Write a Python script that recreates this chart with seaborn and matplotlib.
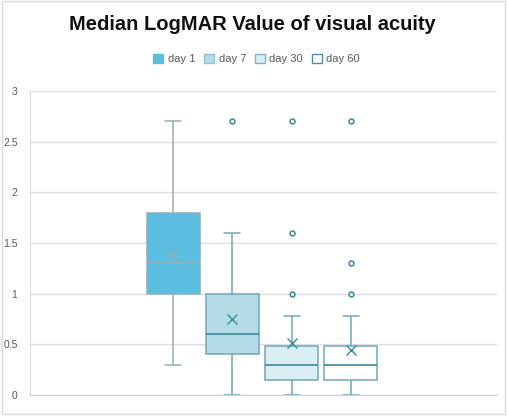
import numpy as np
import pandas as pd
import matplotlib
matplotlib.use("Agg")
import matplotlib.pyplot as plt
from matplotlib.patches import Patch, Rectangle
import seaborn as sns

# LogMAR values per visit
days = ["day 1", "day 7", "day 30", "day 60"]
day1 = [0.3, 0.78, 0.78, 1.0, 1.0, 1.0, 1.0, 1.3, 1.3, 1.3, 1.3, 1.3,
        1.6, 1.6, 1.8, 1.8, 1.8, 1.8, 1.8, 1.8, 2.7]
day7 = [0, 0.18, 0.3, 0.3, 0.4, 0.4, 0.48, 0.48, 0.6, 0.6, 0.6, 0.6,
        0.6, 1.0, 1.0, 1.0, 1.0, 1.0, 1.0, 1.6, 2.7]
day30 = [0, 0, 0, 0.1, 0.15, 0.15, 0.18, 0.18, 0.3, 0.3, 0.3, 0.3,
         0.48, 0.48, 0.48, 0.48, 0.78, 0.78, 1.0, 1.6, 2.7]
day60 = [0, 0, 0, 0, 0, 0.15, 0.15, 0.15, 0.3, 0.3, 0.3, 0.3,
         0.3, 0.3, 0.3, 0.48, 0.48, 0.78, 1.0, 1.3, 2.7]

fills = ["#5BBDDF", "#B4DCE7", "#DAEEF4", "#FFFFFF"]
edges = ["#93AFB8", "#6FA7B6", "#6FA7B6", "#6FA7B6"]
medians = ["#93AFB8", "#3C8A9B", "#3C8A9B", "#3C8A9B"]

df = pd.DataFrame({
    "day": np.repeat(days, [len(day1), len(day7), len(day30), len(day60)]),
    "value": day1 + day7 + day30 + day60,
})

sns.set_style("white")
plt.rcParams["font.family"] = ["Liberation Sans", "DejaVu Sans"]

fig = plt.figure(figsize=(5.08, 4.19), dpi=100)
ax = fig.add_axes([30 / 508, 1 - 395 / 419, 467 / 508, 304 / 419])

for d, fc, ec, mc in zip(days, fills, edges, medians):
    sub = df[df["day"] == d]
    sns.boxplot(data=sub, x="day", y="value", order=days, color=fc,
                width=0.9, linewidth=1.1, linecolor=ec, showmeans=True,
                meanprops=dict(marker="x", markeredgecolor=mc, markersize=7,
                               markeredgewidth=1.0),
                medianprops=dict(color=mc, linewidth=1.2),
                flierprops=dict(marker="o", markersize=3.5, markerfacecolor="none",
                                markeredgecolor="#3C8A9B", markeredgewidth=1.1),
                capwidths=0.27, saturation=1, ax=ax)

ax.set_xlim(-2.42, 5.47)
ax.set_ylim(0, 3)
ax.set_yticks([0, 0.5, 1, 1.5, 2, 2.5, 3])
ax.set_yticklabels(["0", "0.5", "1", "1.5", "2", "2.5", "3"])
ax.set_xticks([])
ax.set_xlabel("")
ax.set_ylabel("")
ax.tick_params(axis="y", length=0, labelsize=7.5, labelcolor="#595959", pad=9)
ax.yaxis.grid(True, color="#DDDDDD", linewidth=1)
ax.set_axisbelow(True)
for s in ["top", "right"]:
    ax.spines[s].set_visible(False)
ax.spines["left"].set_color("#DDDDDD")
ax.spines["bottom"].set_color("#D0D0D0")

fig.text(0.497, 1 - 25 / 419, "Median LogMAR Value of visual acuity",
         ha="center", va="center", fontsize=14.5, fontweight="bold", color="#111111")

handles = [Patch(facecolor=fc, edgecolor=ec, linewidth=1) for fc, ec in
           zip(fills, ["#5BBDDF", "#8FC3D1", "#7FB3C2", "#4E8E9E"])]
fig.legend(handles, days, loc="center", bbox_to_anchor=(0.505, 1 - 59 / 419),
           ncol=4, frameon=False, fontsize=8, labelcolor="#595959",
           handlelength=0.9, handleheight=0.9, handletextpad=0.4, columnspacing=0.8)

fig.patches.append(Rectangle((0.004, 0.012), 0.99, 0.985, transform=fig.transFigure,
                             fill=False, edgecolor="#D9D9D9", linewidth=1))

fig.savefig("out.png", dpi=100)
